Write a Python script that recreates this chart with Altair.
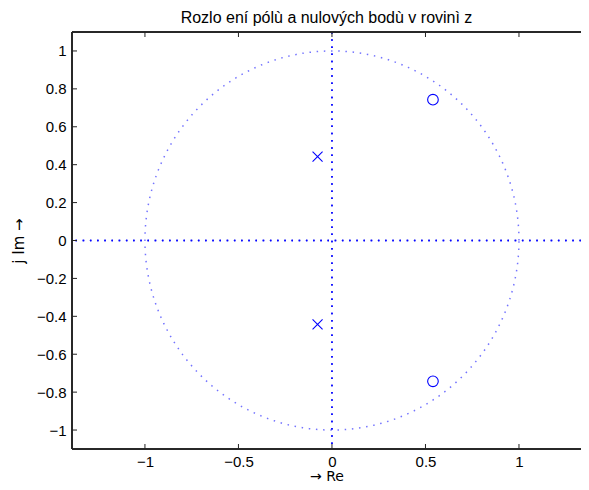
import altair as alt
import numpy as np
import pandas as pd

# Data
pole_re = [-0.077, -0.077]
pole_im = [0.443, -0.443]
zero_re = [0.54, 0.54]
zero_im = [0.743, -0.743]
x_ticks = [-1, -0.5, 0, 0.5, 1]
y_ticks = [-1, -0.8, -0.6, -0.4, -0.2, 0, 0.2, 0.4, 0.6, 0.8, 1]
x_domain = [-1.39, 1.3316]
y_domain = [-1.1, 1.1]

W, H = 509, 417
FONT = "Liberation Sans"
TFONT = "DejaVu Sans"
BLUE = "#0000ff"

# unit circle reference (geometric, as drawn by zplane)
t = np.linspace(0, 2 * np.pi, 361)
circle = pd.DataFrame({"t": np.arange(len(t)), "cx": np.cos(t), "cy": np.sin(t)})
poles = pd.DataFrame({"re": pole_re, "im": pole_im})
zeros = pd.DataFrame({"re": zero_re, "im": zero_im})
xt = pd.DataFrame({"v": x_ticks})
yt = pd.DataFrame({"v": y_ticks})

xsc = alt.Scale(domain=x_domain, nice=False, zero=False)
ysc = alt.Scale(domain=y_domain, nice=False, zero=False)
xax = alt.Axis(values=x_ticks, format="~g", title="→ Re", labelPadding=5,
               titlePadding=0, titleFontSize=14)
yax = alt.Axis(values=y_ticks, format="~g", title="j Im →", labelPadding=6, titlePadding=10)

dot_c = dict(color=BLUE, strokeWidth=1.5, strokeDash=[1.5, 5.7], opacity=0.55, strokeCap="butt")
dot_r = dict(color=BLUE, strokeWidth=1.5, strokeDash=[1.5, 5.7], opacity=0.5, strokeCap="butt")

circ = alt.Chart(circle).mark_line(**dot_c).encode(
    x=alt.X("cx:Q", scale=xsc, axis=xax),
    y=alt.Y("cy:Q", scale=ysc, axis=yax),
    order="t:Q",
)
hline = alt.Chart(xt).mark_rule(**dot_r).encode(
    y=alt.Y(datum=0, scale=ysc, axis=yax)
)
vline = alt.Chart(xt).mark_rule(**dot_r).encode(
    x=alt.X(datum=0, scale=xsc, axis=xax)
)

cross_path = "M-1,-1L1,1M-1,1L1,-1"
pole_m = alt.Chart(poles).mark_point(
    shape=cross_path, size=100, filled=False, color=BLUE, stroke=BLUE,
    strokeWidth=1.1, opacity=1
).encode(x=alt.X("re:Q", scale=xsc, axis=xax), y=alt.Y("im:Q", scale=ysc, axis=yax))
zero_m = alt.Chart(zeros).mark_point(
    shape="circle", size=113, filled=False, color=BLUE, stroke=BLUE,
    strokeWidth=1.1, opacity=1
).encode(x=alt.X("re:Q", scale=xsc, axis=xax), y=alt.Y("im:Q", scale=ysc, axis=yax))

# frame (left, top, bottom) and inward ticks, MATLAB style
fr = dict(color="#222222", strokeWidth=1)
frame_l = alt.Chart(xt).mark_rule(**fr).encode(x=alt.value(0), y=alt.value(0), y2=alt.value(H))
frame_t = alt.Chart(xt).mark_rule(**fr).encode(y=alt.value(0), x=alt.value(0), x2=alt.value(W))
frame_b = alt.Chart(xt).mark_rule(**fr).encode(y=alt.value(H), x=alt.value(0), x2=alt.value(W))

tk = dict(color="#222222", strokeWidth=1)
tl = alt.Chart(yt).mark_rule(**tk).encode(
    y=alt.Y("v:Q", scale=ysc, axis=yax), x=alt.value(0), x2=alt.value(5))
tb = alt.Chart(xt).mark_rule(**tk).encode(
    x=alt.X("v:Q", scale=xsc, axis=xax), y=alt.value(H - 5), y2=alt.value(H))
tt = alt.Chart(xt).mark_rule(**tk).encode(
    x=alt.X("v:Q", scale=xsc, axis=xax), y=alt.value(0), y2=alt.value(5))

chart = alt.layer(circ, hline, vline, frame_l, frame_t, frame_b, tl, tb, tt, pole_m, zero_m).properties(
    width=W,
    height=H,
    title=alt.TitleParams("Rozlo ení pólù a nulových bodù v rovinì z",
                          font=FONT, fontSize=16, fontWeight="normal",
                          color="black", offset=5),
    autosize=alt.AutoSizeParams(type="none"),
    padding={"left": 64, "top": 24, "right": 0, "bottom": 33},
).configure_view(stroke=None).configure_axis(
    grid=False, domain=False, ticks=False,
    labelFont=FONT, labelFontSize=15, labelColor="black",
    titleFont=TFONT, titleFontSize=15, titleFontWeight="normal", titleColor="black",
)

chart.save("out.html", embed_options={"renderer": "svg", "actions": False})
